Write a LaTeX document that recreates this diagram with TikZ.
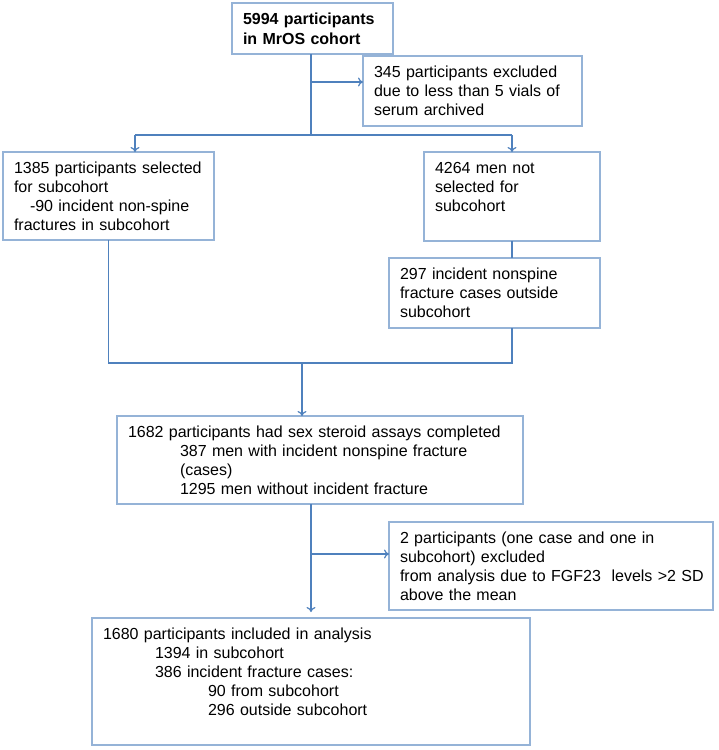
\documentclass[tikz,border=0pt]{standalone}
\usepackage{fontspec}
\setmainfont{Liberation Sans}
\usetikzlibrary{arrows.meta}
\definecolor{boxline}{RGB}{149,179,215}
\definecolor{link}{RGB}{79,129,189}
\tikzset{
  box/.style={draw=boxline, line width=1.2pt, anchor=north west, outer sep=0pt,
    inner xsep=11pt, inner ysep=9pt, align=left, text height=12pt,
    font=\fontsize{16}{19}\selectfont},
  wire/.style={draw=link, line width=1.2pt},
  arr/.style={wire, -{To[length=5pt,width=9pt]}}
}
\begin{document}
\begin{tikzpicture}[x=1pt,y=-1pt]
\useasboundingbox (0,0) rectangle (719,750);
% boxes
\node[box, text width=139pt, text depth=21pt, font=\fontsize{16}{20}\selectfont\bfseries]
  (cohort) at (232,3) {5994 participants\\in MrOS cohort};
\node[box, text width=197pt, text depth=40pt] (excl1) at (363,56)
  {345 participants excluded\\due to less than 5 vials of\\serum archived};
\node[box, text width=189pt, text depth=58pt] (sub) at (3,152)
  {1385 participants selected\\for subcohort\\\hspace*{16pt}-90 incident non-spine\\fractures in subcohort};
\node[box, text width=154pt, text depth=59pt] (nosub) at (424,152)
  {4264 men not\\selected for\\subcohort};
\node[box, text width=189pt, text depth=40pt] (outside) at (389,258)
  {297 incident nonspine\\fracture cases outside\\subcohort};
\node[box, text width=384pt, text depth=58pt] (assay) at (117,416)
  {1682 participants had sex steroid assays completed\\
   \hspace*{52pt}387 men with incident nonspine fracture\\
   \hspace*{52pt}(cases)\\
   \hspace*{52pt}1295 men without incident fracture};
\node[box, text width=302pt, text depth=58pt] (excl2) at (389,522)
  {2 participants (one case and one in\\subcohort) excluded\\
   \mbox{from analysis due to FGF23\ \ levels >2 SD}\\above the mean};
\node[box, text width=416pt, text depth=97pt] (final) at (92,618)
  {1680 participants included in analysis\\
   \hspace*{52pt}1394 in subcohort\\
   \hspace*{52pt}386 incident fracture cases:\\
   \hspace*{105pt}90 from subcohort\\
   \hspace*{105pt}296 outside subcohort};
% connectors
\coordinate (b1) at (311,82);
\coordinate (l1) at (135,135);
\coordinate (r1) at (512,135);
\coordinate (m1) at (302,363);
\coordinate (b2) at (311,554);
\draw[wire] (cohort.south -| b1) -- (b1 |- r1);
\draw[arr] (b1) -- (b1 -| excl1.west);
\draw[wire] (l1) -- (r1);
\draw[arr] (l1) -- (l1 |- sub.north);
\draw[arr] (r1) -- (r1 |- nosub.north);
\draw[wire] (nosub.south -| r1) -- (r1 |- outside.north);
\draw[wire] (sub.south) |- (r1 |- m1) -- (r1 |- outside.south);
\draw[arr] (m1) -- (m1 |- assay.north);
\draw[wire] (assay.south -| b2) -- (b2);
\draw[arr, shorten >=6pt] (b2) -- (b2 |- final.north);
\draw[arr] (b2) -- (b2 -| excl2.west);
\end{tikzpicture}
\end{document}
